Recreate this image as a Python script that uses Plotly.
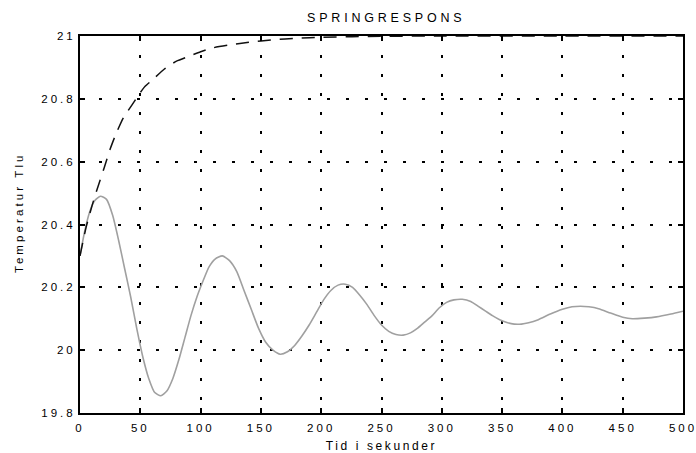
import plotly.graph_objects as go

# Gray oscillating response
osc_t = [0, 4, 8, 12, 17, 22, 27, 32, 37, 42, 47, 52, 57, 62, 67, 72, 77, 82, 87, 92, 97,
         102, 107, 112, 118, 124, 130, 136, 142, 148, 154, 160, 166, 172, 178, 184, 190, 196,
         202, 208, 214, 220, 226, 232, 238, 244, 250, 256, 262, 268, 274, 280, 286, 292, 298,
         304, 310, 317, 324, 330, 336, 342, 348, 354, 360, 366, 372, 380, 390, 400, 408, 415,
         422, 430, 440, 450, 458, 468, 478, 490, 500]
osc_y = [20.30, 20.38, 20.44, 20.475, 20.49, 20.48, 20.43, 20.35, 20.26, 20.17, 20.07, 19.98,
         19.91, 19.865, 19.855, 19.87, 19.91, 19.97, 20.04, 20.11, 20.17,
         20.22, 20.265, 20.29, 20.30, 20.285, 20.25, 20.19, 20.13, 20.07, 20.025, 20.0, 19.987,
         19.995, 20.015, 20.045, 20.08, 20.12,
         20.16, 20.19, 20.207, 20.21, 20.2, 20.175, 20.145, 20.11, 20.08, 20.06, 20.05, 20.048,
         20.055, 20.07, 20.09, 20.11, 20.135,
         20.152, 20.16, 20.162, 20.155, 20.14, 20.125, 20.11, 20.097, 20.088, 20.083, 20.083,
         20.087, 20.097, 20.115, 20.13, 20.138, 20.14,
         20.138, 20.132, 20.118, 20.105, 20.10, 20.102, 20.106, 20.115, 20.124]

# Black dashed response
dash_t = [0, 5, 10, 14, 20, 25, 30, 36, 43, 50, 54, 60, 70, 80, 90, 100, 110, 125, 140,
          160, 180, 200, 250, 300, 400, 500]
dash_y = [20.30, 20.39, 20.46, 20.51, 20.58, 20.64, 20.69, 20.74, 20.78, 20.82, 20.84,
          20.86, 20.895, 20.92, 20.935, 20.95, 20.962, 20.972, 20.98, 20.988, 20.993,
          20.996, 20.999, 21.0, 21.0, 21.0]

x_ticks = [0, 50, 100, 150, 200, 250, 300, 350, 400, 450, 500]
y_ticks = [19.8, 20, 20.2, 20.4, 20.6, 20.8, 21]
y_tick_labels = ["19.8", "20", "20.2", "20.4", "20.6", "20.8", "21"]

FONT = "Liberation Sans, Arial, sans-serif"

fig = go.Figure()
fig.add_trace(go.Scatter(x=osc_t, y=osc_y, mode="lines",
                         line=dict(color="#a0a0a0", width=1.6, shape="spline", smoothing=0.6),
                         showlegend=False))
fig.add_trace(go.Scatter(x=dash_t, y=dash_y, mode="lines",
                         line=dict(color="#111111", width=1.5, dash="13px,9px", shape="spline", smoothing=0.6),
                         showlegend=False))

axis_common = dict(showline=True, linecolor="black", linewidth=2, mirror="ticks",
                   ticks="inside", ticklen=5, tickwidth=1.5, tickcolor="black",
                   showgrid=True, gridcolor="black", gridwidth=1.5, griddash="3px,16px",
                   zeroline=False, automargin=False,
                   tickfont=dict(family=FONT, size=11.5, color="black"))

fig.update_xaxes(range=[0, 500], tickvals=x_ticks, ticktext=[str(v) for v in x_ticks],
                 ticklabelstandoff=3,
                 title=dict(text="Tid i sekunder", font=dict(family=FONT, size=12, color="black"), standoff=11),
                 **axis_common)
fig.update_yaxes(range=[19.8, 21], tickvals=y_ticks, ticktext=y_tick_labels,
                 **axis_common)

fig.add_annotation(text="Temperatur Tlu", textangle=-90, xref="paper", yref="paper",
                   x=-0.101, y=0.53, xanchor="center", yanchor="middle", showarrow=False,
                   font=dict(family=FONT, size=11.5, color="black"))

fig.update_layout(
    width=696, height=453,
    margin=dict(l=80, r=13, t=36, b=40, autoexpand=False),
    paper_bgcolor="white", plot_bgcolor="white",
    title=dict(text="SPRINGRESPONS", x=0.555, xanchor="center", y=0.962, yanchor="middle",
               font=dict(family=FONT, size=12.5, color="black")),
)

post = """
var st = document.createElement('style');
st.textContent = '.main-svg .gtitle { letter-spacing: 3.8px !important; } ' +
  '.main-svg .xtick text, .main-svg .ytick text { letter-spacing: 3px !important; } ' +
  '.main-svg .xtitle { letter-spacing: 2.6px !important; } ' +
  '.main-svg .annotation-text { letter-spacing: 3.1px !important; }';
document.head.appendChild(st);
"""
fig.write_html("out.html", post_script=post)
